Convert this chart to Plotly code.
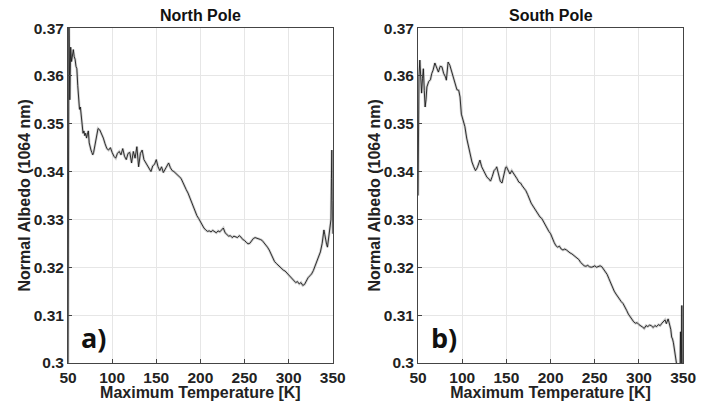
import plotly.graph_objects as go

# North Pole: maximum temperature [K] and normal albedo (1064 nm)
north_T = [50, 50.5, 51, 52, 53, 54, 55, 56, 57, 58, 59, 60, 61, 62, 63, 64, 65, 66, 67, 68, 69, 70,
           71, 72, 73, 74, 75, 76, 77, 78, 79, 80, 82, 84, 86, 88, 90, 92, 94, 96, 98, 100, 102, 104,
           106, 108, 110, 112, 114, 116, 118, 120, 122, 124, 126, 128, 130, 132, 134, 136, 138, 140,
           142, 144, 146, 148, 150, 152, 154, 156, 158, 160, 162, 164, 166, 168, 170, 172, 174, 176,
           178, 180, 182, 184, 186, 188, 190, 192, 194, 196, 198, 200, 202, 204, 206, 208, 210, 212,
           214, 216, 218, 220, 222, 224, 226, 228, 230, 232, 234, 236, 238, 240, 242, 244, 246, 248,
           250, 252, 254, 256, 258, 260, 262, 264, 266, 268, 270, 272, 274, 276, 278, 280, 282, 284,
           286, 288, 290, 292, 294, 296, 298, 300, 302, 304, 306, 308, 310, 312, 314, 316, 318, 320,
           322, 324, 326, 328, 330, 332, 334, 336, 338, 339, 340, 341, 342, 343, 344, 345, 346, 347,
           348, 348.5, 349, 349.5, 350]
north_A = [0.300, 0.352, 0.372, 0.355, 0.366, 0.363, 0.365, 0.3655, 0.364, 0.3635, 0.362, 0.3615,
           0.358, 0.355, 0.353, 0.3535, 0.351, 0.349, 0.348, 0.3485, 0.3475, 0.348, 0.347, 0.3478,
           0.3485, 0.346, 0.345, 0.3445, 0.344, 0.3435, 0.344, 0.345, 0.347, 0.349, 0.3487, 0.348,
           0.347, 0.3458, 0.3448, 0.3445, 0.345, 0.344, 0.3432, 0.3428, 0.3438, 0.3442, 0.3435,
           0.3448, 0.3432, 0.3425, 0.3438, 0.344, 0.3418, 0.3442, 0.3428, 0.3452, 0.341, 0.3438,
           0.3445, 0.3425, 0.3418, 0.3412, 0.3405, 0.340, 0.3412, 0.3415, 0.3425, 0.341, 0.3402,
           0.341, 0.3398, 0.3405, 0.3412, 0.3418, 0.3408, 0.3402, 0.340, 0.3396, 0.3392, 0.339,
           0.3386, 0.3378, 0.3368, 0.3362, 0.3355, 0.3345, 0.3338, 0.3325, 0.3315, 0.3308, 0.3302,
           0.3295, 0.3288, 0.3282, 0.3278, 0.3275, 0.3276, 0.3274, 0.3277, 0.3275, 0.3272, 0.3276,
           0.3274, 0.3278, 0.3282, 0.3272, 0.3268, 0.3265, 0.3266, 0.3262, 0.3265, 0.3264, 0.3262,
           0.3266, 0.3263, 0.3258, 0.3256, 0.3252, 0.3249, 0.325, 0.3255, 0.326, 0.3262, 0.3261,
           0.326, 0.3258, 0.3256, 0.3252, 0.3246, 0.3242, 0.3236, 0.3228, 0.322, 0.3212, 0.3208,
           0.3204, 0.320, 0.3197, 0.3194, 0.3192, 0.3188, 0.3186, 0.3182, 0.3178, 0.3174, 0.3168,
           0.317, 0.3165, 0.3168, 0.3162, 0.3164, 0.3172, 0.3178, 0.3182, 0.3186, 0.3193, 0.3202,
           0.3212, 0.322, 0.3232, 0.325, 0.3272, 0.3278, 0.3268, 0.3255, 0.3248, 0.3242, 0.3255,
           0.3268, 0.3285, 0.330, 0.3385, 0.3445, 0.334, 0.327]

# South Pole
south_T = [50, 50.5, 51, 52, 53, 54, 55, 56, 57, 58, 59, 60, 62, 64, 65.5, 67, 69, 71, 73, 75, 77,
           79, 81, 82, 84, 86, 88, 90, 92, 94, 96, 97.5, 99, 101, 103, 105, 107, 109, 111, 113, 115,
           117, 119, 120, 122, 124, 126, 128, 130, 132, 134, 136, 138, 139, 141, 143, 145, 147, 149,
           150, 152, 154, 156, 158, 160, 162, 164, 166, 168, 170, 172, 174, 176, 178, 180, 182, 184,
           186, 188, 190, 192, 194, 196, 198, 200, 202, 204, 206, 208, 210, 212, 214, 216, 218, 220,
           222, 224, 226, 228, 230, 232, 234, 236, 238, 240, 242, 244, 246, 248, 250, 252, 254, 256,
           258, 260, 262, 264, 266, 268, 270, 272, 274, 276, 278, 280, 282, 284, 286, 288, 290, 292,
           294, 296, 298, 300, 302, 304, 306, 308, 310, 312, 314, 316, 318, 320, 322, 324, 326, 328,
           329.5, 331, 333, 334, 335, 336, 337, 338, 339, 340, 341, 342, 343, 344, 345, 346.5, 347,
           347.5, 348, 348.5, 349]
south_A = [0.335, 0.350, 0.3598, 0.3633, 0.360, 0.3564, 0.3595, 0.3615, 0.357, 0.3535, 0.355,
           0.3577, 0.3588, 0.3592, 0.3605, 0.3612, 0.3627, 0.3615, 0.3608, 0.362, 0.3619, 0.3605,
           0.3598, 0.3591, 0.3629, 0.3622, 0.361, 0.3598, 0.3585, 0.3571, 0.357, 0.3556, 0.352,
           0.3505, 0.3494, 0.347, 0.3451, 0.3435, 0.342, 0.341, 0.3402, 0.3408, 0.3418, 0.3424,
           0.341, 0.3403, 0.3395, 0.3388, 0.3385, 0.338, 0.339, 0.3402, 0.3406, 0.341, 0.3395,
           0.338, 0.3376, 0.3395, 0.3408, 0.341, 0.3402, 0.3395, 0.3402, 0.3397, 0.3392, 0.3385,
           0.3378, 0.3376, 0.337, 0.3365, 0.336, 0.3352, 0.3342, 0.3334, 0.3328, 0.3322, 0.3315,
           0.331, 0.3305, 0.3302, 0.3295, 0.3288, 0.328, 0.3275, 0.327, 0.326, 0.3252, 0.3245,
           0.3242, 0.3244, 0.3238, 0.3236, 0.3238, 0.3236, 0.3232, 0.323, 0.3228, 0.3225, 0.3222,
           0.3219, 0.3216, 0.321, 0.3206, 0.3203, 0.3202, 0.3204, 0.3201, 0.320, 0.3201, 0.3203,
           0.320, 0.3202, 0.3203, 0.3201, 0.3196, 0.319, 0.3185, 0.3176, 0.3166, 0.3156, 0.315,
           0.3144, 0.3138, 0.3132, 0.3128, 0.3124, 0.3118, 0.311, 0.3102, 0.3096, 0.309, 0.3086,
           0.3083, 0.3084, 0.308, 0.3078, 0.3075, 0.3072, 0.3078, 0.3076, 0.3079, 0.3078, 0.3074,
           0.3078, 0.3076, 0.308, 0.3078, 0.3083, 0.3086, 0.309, 0.3082, 0.3092, 0.3085, 0.3078,
           0.307, 0.3054, 0.305, 0.3042, 0.303, 0.302, 0.300, 0.2985, 0.298, 0.2975, 0.2985,
           0.3065, 0.298, 0.299, 0.312, 0.298]

x_ticks = [50, 100, 150, 200, 250, 300, 350]
y_ticks = [0.30, 0.31, 0.32, 0.33, 0.34, 0.35, 0.36, 0.37]
y_tick_labels = ["0.3", "0.31", "0.32", "0.33", "0.34", "0.35", "0.36", "0.37"]
titles = ["North Pole", "South Pole"]
panel_labels = ["a)", "b)"]
x_title = "Maximum Temperature [K]"
y_title = "Normal Albedo (1064 nm)"

FONT = "Liberation Sans, Arial, sans-serif"
fig = go.Figure()

series = [(north_T, north_A, "x", "y"), (south_T, south_A, "x2", "y2")]
for T, A, xa, ya in series:
    fig.add_trace(go.Scatter(x=T, y=A, xaxis=xa, yaxis=ya, mode="lines",
                             line=dict(color="rgba(170,170,170,0.55)", width=2.6),
                             hoverinfo="skip", showlegend=False))
    fig.add_trace(go.Scatter(x=T, y=A, xaxis=xa, yaxis=ya, mode="lines",
                             line=dict(color="#1a1a1a", width=0.9),
                             showlegend=False))

ydom = [0.095, 0.930]
xdoms = [[0.0965, 0.472], [0.593, 0.969]]

axis_common = dict(showgrid=True, gridcolor="#e6e6e6", gridwidth=1,
                   showline=True, linecolor="#444444", linewidth=1, mirror=True,
                   ticks="inside", ticklen=4, tickcolor="#444444", zeroline=False,
                   automargin=False,
                   tickfont=dict(family=FONT, size=15.5, color="#222222", weight="bold"))

layout = dict(width=705, height=401, margin=dict(l=0, r=0, t=0, b=0),
              paper_bgcolor="white", plot_bgcolor="white", showlegend=False)
for i, (xa, ya) in enumerate([("xaxis", "yaxis"), ("xaxis2", "yaxis2")]):
    anchor_x = "y" if i == 0 else "y2"
    anchor_y = "x" if i == 0 else "x2"
    layout[xa] = dict(domain=xdoms[i], anchor=anchor_x, range=[50, 350],
                      tickvals=x_ticks, ticktext=[str(v) for v in x_ticks],
                      title=dict(text=x_title, standoff=0,
                                 font=dict(family=FONT, size=16, color="#222222", weight="bold")),
                      **axis_common)
    layout[ya] = dict(domain=ydom, anchor=anchor_y, range=[0.30, 0.37],
                      tickvals=y_ticks, ticktext=y_tick_labels,
                      **axis_common)
fig.update_layout(**layout)

ytitle_x = [24 / 705, 374 / 705]
for i in range(2):
    cx = (xdoms[i][0] + xdoms[i][1]) / 2
    fig.add_annotation(text=titles[i], xref="paper", yref="paper", x=cx, y=ydom[1],
                       xanchor="center", yanchor="bottom", yshift=2, showarrow=False,
                       font=dict(family=FONT, size=16, color="#111111", weight="bold"))
    fig.add_annotation(text=y_title, xref="paper", yref="paper", x=ytitle_x[i],
                       y=(ydom[0] + ydom[1]) / 2, xanchor="center", yanchor="middle",
                       textangle=-90, showarrow=False,
                       font=dict(family=FONT, size=16, color="#222222", weight="bold"))
    fig.add_annotation(text=panel_labels[i], xref="paper", yref="paper",
                       x=xdoms[i][0] + 0.015, y=ydom[0] + 0.012, xanchor="left", yanchor="bottom",
                       showarrow=False,
                       font=dict(family="Open Sans, sans-serif", size=27, color="#111111", weight="bold"))

fig.write_html("out.html")
